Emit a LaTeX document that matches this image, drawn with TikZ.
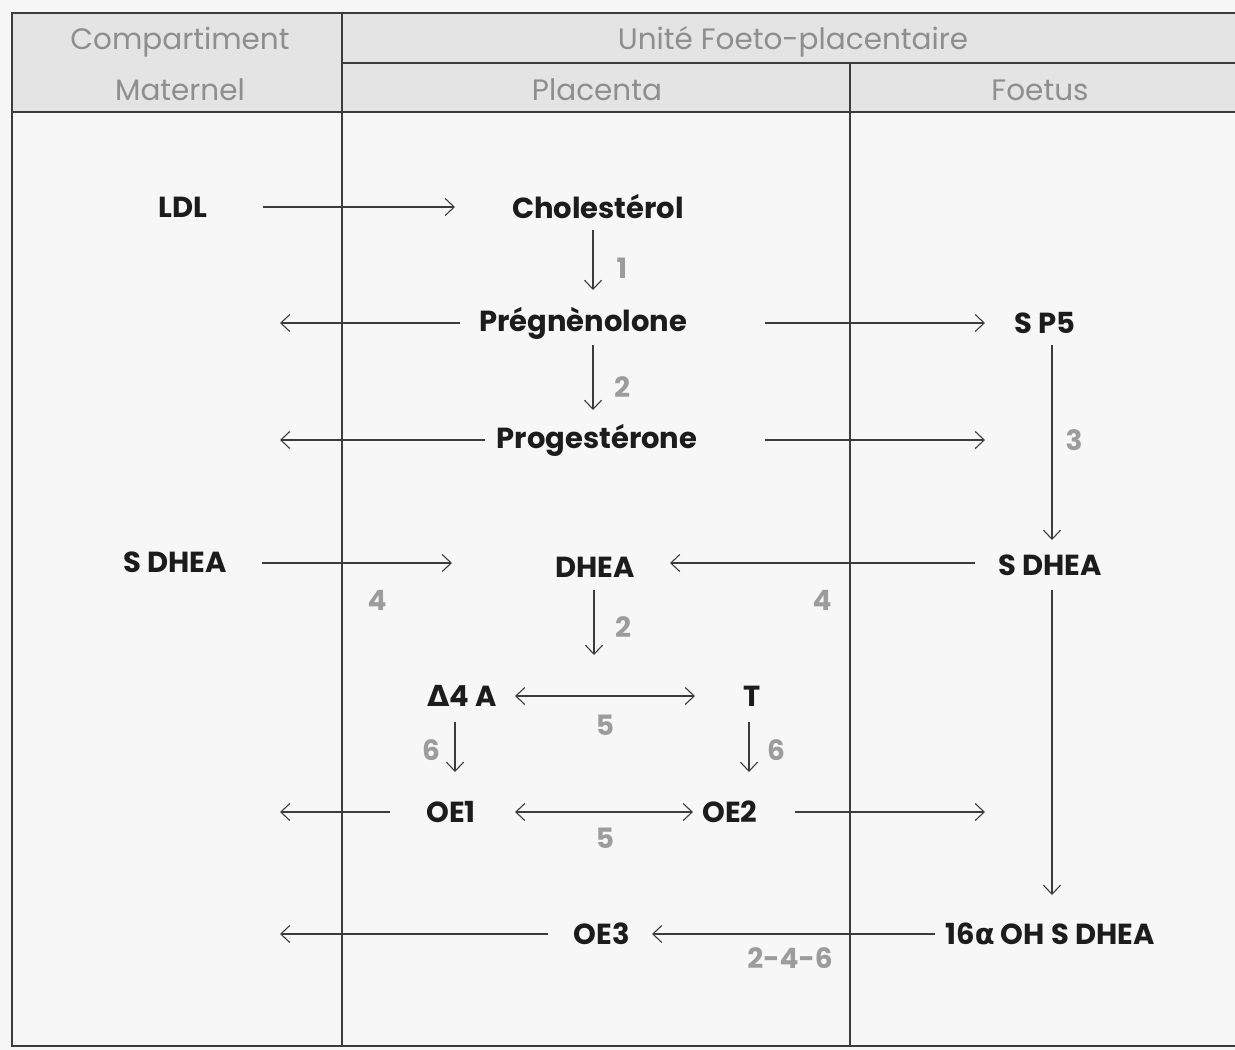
\documentclass[tikz,border=0pt]{standalone}
\usepackage{fontspec}
\setmainfont{Poppins}
\newfontfamily\grk{DejaVu Sans}
\usetikzlibrary{arrows.meta}
\definecolor{pagebg}{HTML}{F7F7F7}
\definecolor{hdrfill}{HTML}{E4E4E4}
\definecolor{hdrtext}{HTML}{8E8E8E}
\definecolor{numgray}{HTML}{9C9C9C}
\definecolor{ink}{HTML}{1C1C1C}
\definecolor{rulec}{HTML}{3C3C3C}
\begin{document}
\begin{tikzpicture}[x=1pt,y=-1pt,
  hdr/.style={text=hdrtext, font=\fontsize{29.5}{31}\selectfont, inner sep=0pt},
  mol/.style={text=ink, font=\fontsize{29}{31}\selectfont\bfseries, inner sep=0pt},
  num/.style={text=numgray, font=\fontsize{28}{30}\selectfont\bfseries, inner sep=0pt},
  tip/.tip={Straight Barb[length=9pt,width=17pt,line width=1.1pt]},
  arr/.style={draw=rulec, line width=1.2pt, -tip},
  darr/.style={draw=rulec, line width=1.2pt, tip-tip},
  gridline/.style={draw=rulec, line width=1.2pt}]
\useasboundingbox (0,0) rectangle (1235,1050);
\fill[pagebg] (0,0) rectangle (1235,1050);
% header
\fill[hdrfill] (12,13) rectangle (1235,112);
\draw[gridline] (1235,13) -- (12,13) -- (12,1046) -- (1235,1046);
\draw[gridline] (12,112) -- (1235,112);
\draw[gridline] (342,63) -- (1235,63);
\draw[gridline] (342,13) -- (342,1046);
\draw[gridline] (850,63) -- (850,1046);
\node[hdr] (h1) at (180,42) {Compartiment};
\node[hdr] (h2) at (180,90) {Maternel};
\node[hdr] (h3) at (793,42) {Unité Foeto-placentaire};
\node[hdr] (h4) at (597,90) {Placenta};
\node[hdr] (h5) at (1040,90) {Foetus};
% molecules
\node[mol] (ldl) at (183,207) {LDL};
\node[mol] (chol) at (598,207) {Cholestérol};
\node[mol] (preg) at (583,323) {Prégnènolone};
\node[mol] (sp5) at (1045,323) {S P5};
\node[mol] (prog) at (597,440) {Progestérone};
\node[mol] (sdheaL) at (175,562) {S DHEA};
\node[mol] (dhea) at (595,567) {DHEA};
\node[mol] (sdheaR) at (1050,565) {S DHEA};
\node[mol] (d4a) at (462,696) {{\grk Δ}4 A};
\node[mol] (tt) at (752,696) {T};
\node[mol] (oe1) at (451,812) {OE1};
\node[mol] (oe2) at (730,812) {OE2};
\node[mol] (oe3) at (602,934) {OE3};
\node[mol] (ohs) at (1050,934) {16{\grk α} OH S DHEA};
% free ends
\coordinate (m1) at (280,323);
\coordinate (m2) at (280,440);
\coordinate (m3) at (280,812);
\coordinate (m4) at (280,934);
% numbers
\node[num] (n1) at (622,268) {1};
\node[num] (n2) at (622,387) {2};
\node[num] (n3) at (1074,440) {3};
\node[num] (n4a) at (377,600) {4};
\node[num] (n4b) at (822,600) {4};
\node[num] (n2b) at (623,627) {2};
\node[num] (n5a) at (605,725) {5};
\node[num] (n6a) at (431,750) {6};
\node[num] (n6b) at (776,750) {6};
\node[num] (n5b) at (605,838) {5};
\node[num] (n246) at (790,958) {2-4-6};
% arrows
\draw[arr, shorten <=80pt, shorten >=143pt] (ldl.center) -- (chol.center);
\draw[arr, shorten <=23pt, shorten >=33pt] ([xshift=-5pt]chol.center) -- ([xshift=10pt]preg.center);
\draw[arr, shorten <=123pt] (preg.center) -- (m1);
\draw[arr, shorten <=182pt, shorten >=60pt] (preg.center) -- (sp5.center);
\draw[arr, shorten <=22pt, shorten >=30pt] ([xshift=10pt]preg.center) -- ([xshift=-4pt]prog.center);
\draw[arr, shorten <=112pt] (prog.center) -- (m2);
\draw[arr, shorten <=168pt, shorten >=60pt] (prog.center) -- ([xshift=448pt]prog.center);
\draw[arr, shorten <=22pt, shorten >=25pt] ([xshift=7pt]sp5.center) -- ([xshift=2pt]sdheaR.center);
\draw[arr, shorten <=87pt, shorten >=143pt] ([yshift=-1pt]sdheaL.center) -- ([yshift=4pt]dhea.center);
\draw[arr, shorten <=75pt, shorten >=75pt] ([yshift=2pt]sdheaR.center) -- ([yshift=4pt]dhea.center);
\draw[arr, shorten <=23pt, shorten >=41pt] ([xshift=-1pt]dhea.center) -- ([xshift=132pt]d4a.center);
\draw[darr, shorten <=53pt, shorten >=57pt] (d4a.center) -- (tt.center);
\draw[arr, shorten <=26pt, shorten >=40pt] ([xshift=-7pt]d4a.center) -- ([xshift=4pt]oe1.center);
\draw[arr, shorten <=26pt, shorten >=40pt] ([xshift=-3pt]tt.center) -- ([xshift=19pt]oe2.center);
\draw[arr, shorten <=61pt] (oe1.center) -- (m3);
\draw[darr, shorten <=64pt, shorten >=37pt] (oe1.center) -- (oe2.center);
\draw[arr, shorten <=65pt, shorten >=65pt] (oe2.center) -- ([xshift=320pt]oe2.center);
\draw[arr, shorten <=25pt, shorten >=39pt] ([xshift=2pt]sdheaR.center) -- ([xshift=2pt]ohs.center);
\draw[arr, shorten <=115pt, shorten >=50pt] (ohs.center) -- (oe3.center);
\draw[arr, shorten <=54pt] (oe3.center) -- (m4);
\end{tikzpicture}
\end{document}
